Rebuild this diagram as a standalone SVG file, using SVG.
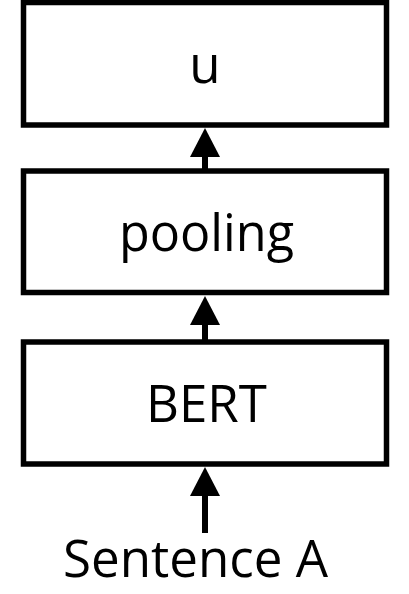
<svg xmlns="http://www.w3.org/2000/svg" width="409" height="594" viewBox="0 0 409 594">
<style>
.box{fill:#fff;stroke:#000;stroke-width:5.5}
.lbl{font-family:"Open Sans","Noto Sans",sans-serif;font-size:51px;fill:#000;text-anchor:middle}
.conn{stroke:#000;stroke-width:6;fill:none}
.head{fill:#000}
</style>
<rect width="409" height="594" fill="#fff"/>
<g id="connectors">
<line class="conn" x1="205" y1="170" x2="205" y2="150"/>
<polygon class="head" points="205,128 190,157 220,157"/>
<line class="conn" x1="205" y1="341" x2="205" y2="320"/>
<polygon class="head" points="205,296 190,325 220,325"/>
<line class="conn" x1="205" y1="533" x2="205" y2="490"/>
<polygon class="head" points="205,467 190,496 220,496"/>
</g>
<g id="node-u">
<rect class="box" x="23.5" y="2.5" width="363" height="122.5"/>
<text class="lbl" x="205" y="83">u</text>
</g>
<g id="node-pooling">
<rect class="box" x="23.5" y="171" width="363" height="121.5"/>
<text class="lbl" x="206.5" y="251" textLength="175" lengthAdjust="spacingAndGlyphs">pooling</text>
</g>
<g id="node-bert">
<rect class="box" x="23.5" y="342" width="363" height="122"/>
<text class="lbl" x="206.5" y="422">BERT</text>
</g>
<g id="sentence-a">
<text class="lbl" x="195.5" y="577" font-size="52" textLength="265" lengthAdjust="spacingAndGlyphs">Sentence A</text>
</g>
</svg>
